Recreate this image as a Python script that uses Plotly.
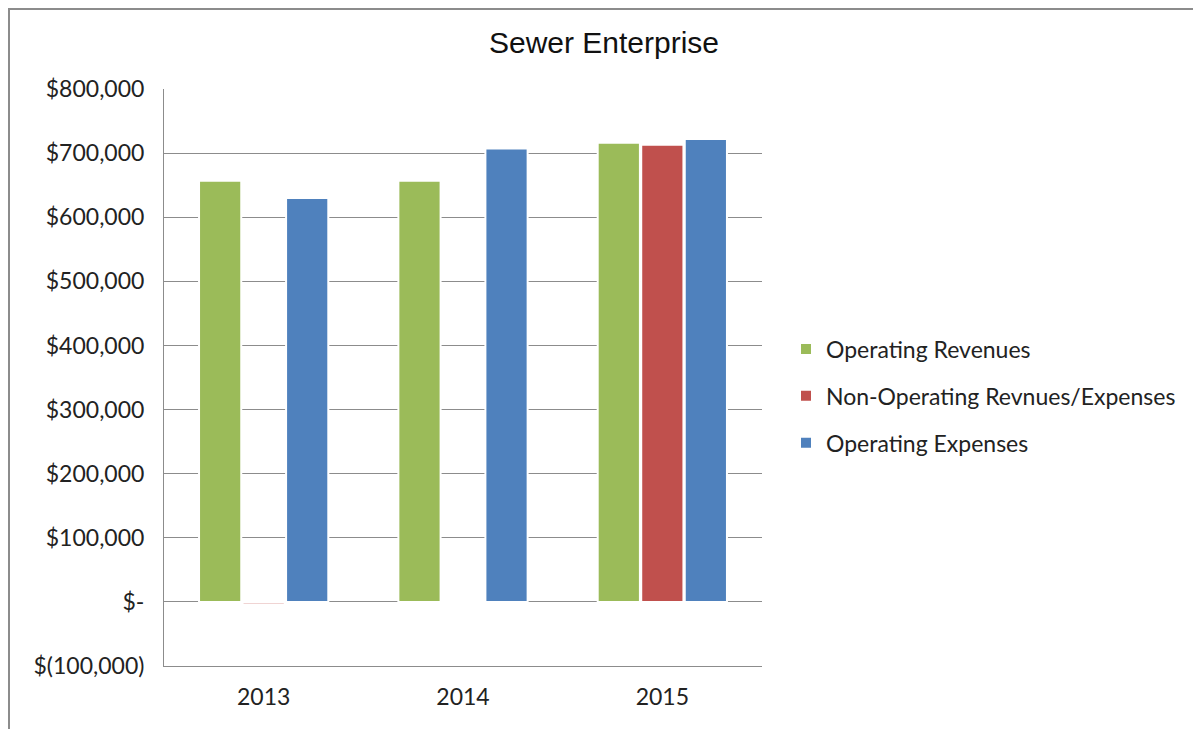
import plotly.graph_objects as go

years = ["2013", "2014", "2015"]
operating_revenues = [657000, 657000, 716000]
non_operating = [-3500, -800, 713000]
operating_expenses = [630000, 707000, 722000]

tick_vals = [-100000, 0, 100000, 200000, 300000, 400000, 500000, 600000, 700000, 800000]
tick_text = ["$(100,000)", "$-", "$100,000", "$200,000", "$300,000", "$400,000",
             "$500,000", "$600,000", "$700,000", "$800,000"]

series = [
    ("Operating Revenues", operating_revenues, "#9BBB59"),
    ("Non-Operating Revnues/Expenses", non_operating, "#C0504D"),
    ("Operating Expenses", operating_expenses, "#4F81BD"),
]

# page has an 8px body margin, so the figure is sized/offset to match
W, H = 1193, 721
L, T, B = 156, 81, 63
R = W - (762 - 8)

fig = go.Figure()
for name, vals, color in series:
    fig.add_trace(go.Bar(
        name=name, x=years, y=vals, legendgroup=name,
        marker=dict(color=color, line=dict(color="white", width=2)),
    ))

fig.update_layout(
    width=W, height=H,
    paper_bgcolor="white", plot_bgcolor="white",
    barmode="group", bargap=0.345, bargroupgap=0.03,
    margin=dict(l=L, r=R, t=T, b=B, autoexpand=False),
    font=dict(family="Lato, Open Sans, sans-serif", size=23, color="#222"),
    title=dict(text="Sewer Enterprise", x=(604 - 8) / W, xanchor="center",
               y=1 - (42 - 8) / H, yanchor="middle",
               font=dict(family="Liberation Sans, Arial, sans-serif", size=30, color="#111")),
    legend=dict(x=(786 - 164) / 598, y=1 - (396 - 89) / 577, xanchor="left", yanchor="middle",
                font=dict(size=23), tracegroupgap=14, itemsizing="constant",
                bgcolor="rgba(0,0,0,0)"),
    showlegend=True,
)
fig.update_yaxes(range=[-100000, 800000], tickvals=tick_vals, ticktext=tick_text,
                 showgrid=True, gridcolor="#8c8c8c", gridwidth=1,
                 zeroline=False, showline=True, linecolor="#8c8c8c", linewidth=1,
                 ticks="", ticklabelstandoff=14, tickfont=dict(size=23))
fig.update_xaxes(showline=True, linecolor="#8c8c8c", linewidth=1, ticks="",
                 ticklabelstandoff=10, tickfont=dict(size=23))

# outer frame (top and left edges visible)
fig.add_shape(type="rect", xref="paper", yref="paper",
              x0=-(L - 1) / 598, x1=(W + 20 - L) / 598, y0=-1, y1=1 + (T - 1) / 577,
              line=dict(color="#8c8c8c", width=2), layer="below")

fig.write_html("out.html")
